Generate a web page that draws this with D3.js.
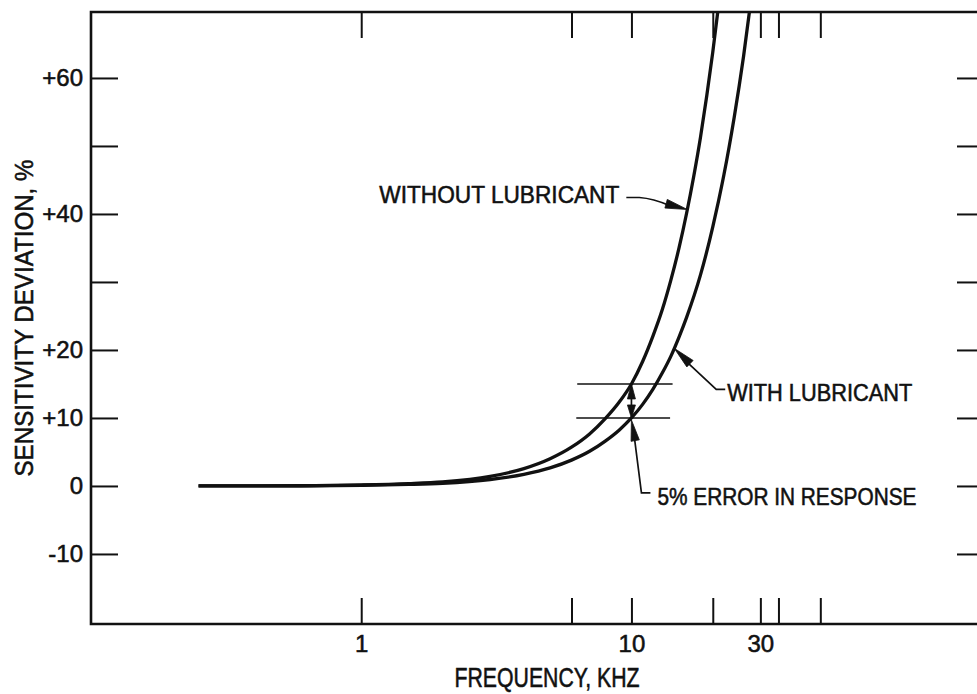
<!DOCTYPE html>
<html>
<head>
<meta charset="utf-8">
<script src="https://cdn.jsdelivr.net/npm/d3@7"></script>
<style>
  body { margin: 0; background: #fff; }
  svg { display: block; }
  text { font-family: "Liberation Sans", Arial, sans-serif; fill: #111; stroke: #111; stroke-width: 0.55px; }
</style>
</head>
<body>
<svg id="chart" width="977" height="694"></svg>
<script>
// Sensitivity deviation vs. frequency (kHz), accelerometer with / without lubricant
const freqWithout = [0.25, 0.6, 1, 1.5, 2, 3, 4, 5, 6, 7, 8, 9, 10, 11, 12, 13, 14, 15, 16, 17, 18, 19, 20, 21, 22];
const devWithout  = [0, 0.03, 0.15, 0.35, 0.6, 1.4, 2.55, 4.0, 5.7, 7.65, 9.9, 12.3, 15.0, 18.3, 22.0, 25.9, 30.3, 35.0, 40.1, 45.5, 51.2, 57.4, 63.8, 70.6, 78.0];

const freqWith = [0.25, 0.6, 1, 1.5, 2, 3, 4, 5, 6, 7, 8, 9, 10, 11, 12, 13, 14, 15, 16, 18, 20, 21, 22, 24, 26, 28];
const devWith  = [0, 0.02, 0.1, 0.23, 0.4, 0.95, 1.7, 2.65, 3.8, 5.1, 6.6, 8.2, 10.0, 12.0, 14.2, 16.6, 19.1, 21.9, 24.8, 31.0, 38.1, 41.9, 45.8, 54.2, 63.2, 72.9];

const yTickValues = [-10, 0, 10, 20, 30, 40, 50, 60];
const yTickLabels = ["-10", "0", "+10", "+20", "", "+40", "", "+60"];
const xTickValues = [1, 6, 10, 20, 30, 35, 50];
const xTickLabels = ["1", "", "10", "", "30", "", ""];

// 5 % error band marked at 10 kHz
const errorFreq = 10;
const errorLevels = [15, 10];
const errorLineFrom = [6.3, 6.25];
const errorLineTo = [14.2, 13.9];

// Curve callouts: label and the frequency where the leader touches its curve
const calloutLabels = ["WITHOUT LUBRICANT", "WITH LUBRICANT", "5% ERROR IN RESPONSE"];
const calloutFreqs = [16.1, 14.4, 10];

const svg = d3.select("#chart");
const plotLeft = 91, plotRight = 983, plotTop = 12, plotBottom = 624;

const x = d3.scaleLog().domain([0.1, 200]).range([plotLeft, plotRight]);
const y = d3.scaleLinear().domain([-20.3, 69.7]).range([plotBottom, plotTop]);

// interpolate a series in log-frequency
function valueAt(freqs, devs, f) {
  for (let i = 0; i < freqs.length - 1; i++) {
    if (f >= freqs[i] && f <= freqs[i + 1]) {
      const t = (Math.log(f) - Math.log(freqs[i])) / (Math.log(freqs[i + 1]) - Math.log(freqs[i]));
      return devs[i] + t * (devs[i + 1] - devs[i]);
    }
  }
  return devs[devs.length - 1];
}

svg.append("defs").append("clipPath").attr("id", "plot")
  .append("rect").attr("x", plotLeft).attr("y", plotTop)
  .attr("width", plotRight - plotLeft).attr("height", plotBottom - plotTop);

// axes with inward ticks on all four sides
const axisStyle = g => {
  g.select(".domain").remove();
  g.selectAll(".tick line").attr("stroke", "#111").attr("stroke-width", 2);
  g.selectAll(".tick text").attr("font-size", 24).attr("fill", "#111")
    .attr("font-family", "\"Liberation Sans\", Arial, sans-serif");
};

svg.append("g").attr("transform", `translate(${plotLeft},0)`)
  .call(d3.axisLeft(y).tickValues(yTickValues).tickSize(-27).tickPadding(8)
    .tickFormat((d, i) => yTickLabels[i]))
  .call(axisStyle);

svg.append("g").attr("transform", `translate(${plotRight},0)`)
  .call(d3.axisRight(y).tickValues(yTickValues).tickSize(-26).tickFormat(""))
  .call(axisStyle);

svg.append("g").attr("transform", `translate(0,${plotBottom})`)
  .call(d3.axisBottom(x).tickValues(xTickValues).tickSize(-26).tickPadding(11)
    .tickFormat((d, i) => xTickLabels[i]))
  .call(axisStyle);

svg.append("g").attr("transform", `translate(0,${plotTop})`)
  .call(d3.axisTop(x).tickValues(xTickValues).tickSize(-26).tickFormat(""))
  .call(axisStyle);

// frame
svg.append("path")
  .attr("d", `M${plotRight},${plotTop}H${plotLeft}V${plotBottom}H${plotRight}`)
  .attr("fill", "none").attr("stroke", "#111").attr("stroke-width", 2.6);

// curves
const line = d3.line().x(d => x(d[0])).y(d => y(d[1])).curve(d3.curveMonotoneX);
const curves = svg.append("g").attr("clip-path", "url(#plot)");
[[freqWithout, devWithout], [freqWith, devWith]].forEach(([fs, ds]) => {
  curves.append("path")
    .attr("d", line(fs.map((f, i) => [f, ds[i]])))
    .attr("fill", "none").attr("stroke", "#111").attr("stroke-width", 3.3)
    .attr("stroke-linejoin", "round");
});

// error band lines
errorLevels.forEach((v, i) => {
  svg.append("line")
    .attr("x1", x(errorLineFrom[i])).attr("x2", x(errorLineTo[i]))
    .attr("y1", y(v)).attr("y2", y(v))
    .attr("stroke", "#111").attr("stroke-width", 1.6);
});

function arrowHead(g, tip, from, len, half) {
  const dx = tip[0] - from[0], dy = tip[1] - from[1];
  const d = Math.hypot(dx, dy), ux = dx / d, uy = dy / d;
  const bx = tip[0] - ux * len, by = tip[1] - uy * len;
  g.append("path")
    .attr("d", `M${tip[0]},${tip[1]}L${bx - uy * half},${by + ux * half}L${bx + uy * half},${by - ux * half}Z`)
    .attr("fill", "#111").attr("stroke", "#111").attr("stroke-width", 0.8).attr("stroke-linejoin", "round");
}

const ann = svg.append("g");
const leader = d => ann.append("path").attr("d", d).attr("fill", "none")
  .attr("stroke", "#111").attr("stroke-width", 1.7);

// double arrow between the two levels at 10 kHz
const ex = x(errorFreq), eTop = y(errorLevels[0]), eBot = y(errorLevels[1]);
leader(`M${ex},${eTop + 4}V${eBot - 4}`);
arrowHead(ann, [ex, eTop], [ex, eBot], 15, 4);
arrowHead(ann, [ex, eBot], [ex, eTop], 13, 4);

// WITHOUT LUBRICANT
{
  const tx = x(calloutFreqs[0]), ty = y(valueAt(freqWithout, devWithout, calloutFreqs[0]));
  leader(`M${tx - 61},${ty - 12}L${tx - 48},${ty - 12}Q${tx - 34},${ty - 11} ${tx - 18},${ty - 4}`);
  arrowHead(ann, [tx, ty], [tx - 22, ty - 6], 22, 4.5);
  ann.append("text").attr("x", tx - 68).attr("y", ty - 7).attr("text-anchor", "end")
    .attr("font-size", 24).attr("textLength", 240).attr("lengthAdjust", "spacingAndGlyphs")
    .text(calloutLabels[0]);
}

// WITH LUBRICANT
{
  const tx = x(calloutFreqs[1]), ty = y(valueAt(freqWith, devWith, calloutFreqs[1]));
  leader(`M${tx + 12},${ty + 13}L${tx + 42},${ty + 41}L${tx + 51},${ty + 41}`);
  arrowHead(ann, [tx, ty], [tx + 42, ty + 41], 22, 4.5);
  ann.append("text").attr("x", tx + 53).attr("y", ty + 53)
    .attr("font-size", 24).attr("textLength", 185).attr("lengthAdjust", "spacingAndGlyphs")
    .text(calloutLabels[1]);
}

// 5% ERROR IN RESPONSE
{
  const tx = x(calloutFreqs[2]), ty = y(valueAt(freqWith, devWith, calloutFreqs[2])) + 2;
  leader(`M${tx + 3},${ty + 18}L${tx + 10},${ty + 73}L${tx + 19},${ty + 73}`);
  arrowHead(ann, [tx, ty], [tx + 4, ty + 22], 21, 4.2);
  ann.append("text").attr("x", tx + 26).attr("y", ty + 85)
    .attr("font-size", 24).attr("textLength", 259).attr("lengthAdjust", "spacingAndGlyphs")
    .text(calloutLabels[2]);
}

// axis titles
svg.append("text").attr("x", 547).attr("y", 687).attr("text-anchor", "middle")
  .attr("font-size", 27).attr("textLength", 185).attr("lengthAdjust", "spacingAndGlyphs")
  .text("FREQUENCY, KHZ");

svg.append("text").attr("transform", "translate(33,318) rotate(-90)").attr("text-anchor", "middle")
  .attr("font-size", 26).attr("textLength", 317).attr("lengthAdjust", "spacingAndGlyphs")
  .text("SENSITIVITY DEVIATION, %");
</script>
</body>
</html>
